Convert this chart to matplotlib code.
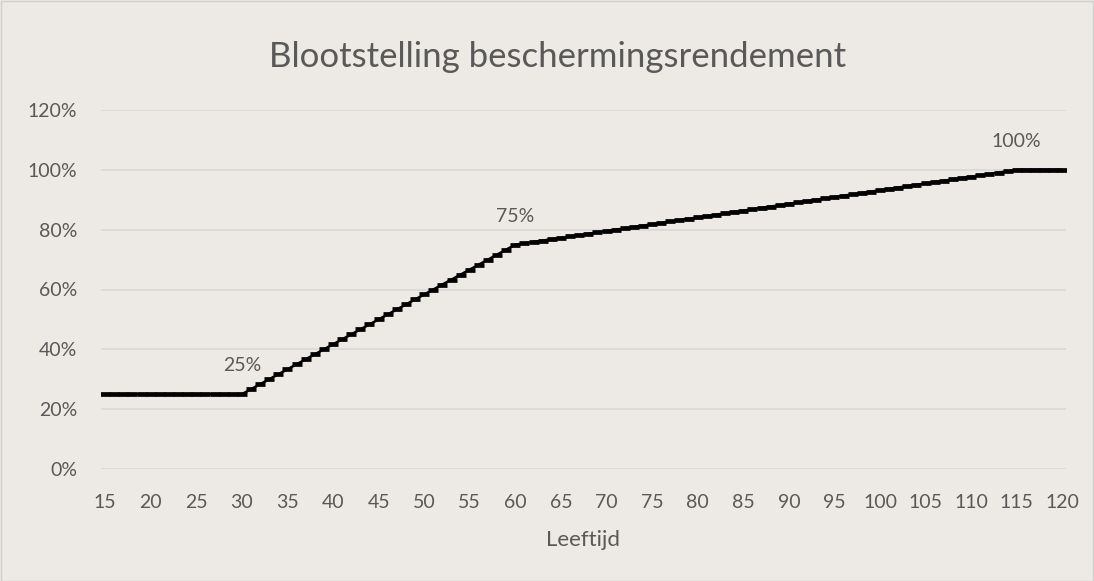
import matplotlib
matplotlib.use("Agg")
import matplotlib.pyplot as plt
from matplotlib.patches import Rectangle

ages = list(range(15, 121))
rendement = [
    0.25, 0.25, 0.25, 0.25, 0.25, 0.25, 0.25, 0.25, 0.25, 0.25,  # 15-24
    0.25, 0.25, 0.25, 0.25, 0.25, 0.25,                          # 25-30
    0.2667, 0.2833, 0.30, 0.3167, 0.3333, 0.35, 0.3667, 0.3833, 0.40, 0.4167,  # 31-40
    0.4333, 0.45, 0.4667, 0.4833, 0.50, 0.5167, 0.5333, 0.55, 0.5667, 0.5833,  # 41-50
    0.60, 0.6167, 0.6333, 0.65, 0.6667, 0.6833, 0.70, 0.7167, 0.7333, 0.75,    # 51-60
    0.7545, 0.7591, 0.7636, 0.7682, 0.7727, 0.7773, 0.7818, 0.7864, 0.7909, 0.7955,  # 61-70
    0.80, 0.8045, 0.8091, 0.8136, 0.8182, 0.8227, 0.8273, 0.8318, 0.8364, 0.8409,    # 71-80
    0.8455, 0.85, 0.8545, 0.8591, 0.8636, 0.8682, 0.8727, 0.8773, 0.8818, 0.8864,    # 81-90
    0.8909, 0.8955, 0.90, 0.9045, 0.9091, 0.9136, 0.9182, 0.9227, 0.9273, 0.9318,    # 91-100
    0.9364, 0.9409, 0.9455, 0.95, 0.9545, 0.9591, 0.9636, 0.9682, 0.9727, 0.9773,    # 101-110
    0.9818, 0.9864, 0.9909, 0.9955, 1.00,                                            # 111-115
    1.00, 1.00, 1.00, 1.00, 1.00,                                                    # 116-120
]
label_ages = [30, 60, 115]
label_texts = ["25%", "75%", "100%"]
x_ticks = list(range(15, 121, 5))
y_ticks = [0, 0.2, 0.4, 0.6, 0.8, 1.0, 1.2]
y_labels = ["0%", "20%", "40%", "60%", "80%", "100%", "120%"]

bg = "#EDE9E4"
txt = "#595959"
plt.rcParams['font.family'] = ['Lato', 'DejaVu Sans']

W, H = 1094, 581
fig = plt.figure(figsize=(W / 100, H / 100), dpi=100, facecolor=bg)
fig.patches.append(Rectangle((0.5 / W, 0.5 / H), 1 - 1.5 / W, 1 - 1.5 / H,
                             transform=fig.transFigure, fill=False,
                             edgecolor="#D0D0D0", lw=1))
L, R, T, B = 101, 1066, 110, 469
ax = fig.add_axes([L / W, 1 - B / H, (R - L) / W, (B - T) / H])
ax.set_facecolor(bg)
ax.plot(ages, rendement, color="black", lw=1.8, marker="_", ms=7, mew=3.4,
        solid_capstyle="butt", zorder=3)
for a, t in zip(label_ages, label_texts):
    v = rendement[ages.index(a)]
    ax.annotate(t, (a, v), xytext=(0, 20.5), textcoords="offset points",
                ha="center", va="center", fontsize=14, color=txt)

ax.set_xlim(14.55, 120.4)
ax.set_ylim(0, 1.2)
ax.set_xticks(x_ticks)
ax.set_xticklabels([str(v) for v in x_ticks])
ax.set_yticks(y_ticks)
ax.set_yticklabels(y_labels)
ax.tick_params(length=0, labelsize=14, labelcolor=txt)
ax.tick_params(axis="x", pad=24)
ax.tick_params(axis="y", pad=17)
for lab in ax.get_xticklabels():
    lab.set_va("center")
ax.grid(axis="y", color="#D9D9D9", lw=1.2)
ax.set_axisbelow(True)
for s in ax.spines.values():
    s.set_visible(False)
fig.text(583 / W, 1 - 540 / H, "Leeftijd",
         ha="center", va="center", fontsize=16, color=txt)
fig.text(558 / W, 1 - 57 / H, "Blootstelling beschermingsrendement",
         ha="center", va="center", fontsize=25, color=txt)
fig.savefig("out.png", dpi=100, facecolor=bg)
